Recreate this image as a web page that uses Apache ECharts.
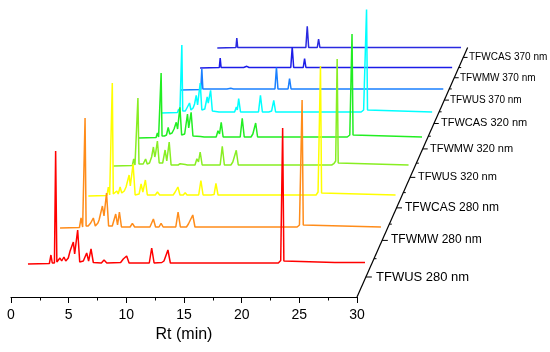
<!DOCTYPE html>
<html><head><meta charset="utf-8">
<script src="https://cdn.jsdelivr.net/npm/echarts@6/dist/echarts.min.js"></script>
<style>html,body{margin:0;padding:0;background:#fff}#c{width:550px;height:352px}</style>
</head><body><div id="c"></div><script>
// ---- data (retention time in min, intensity in arbitrary units) ----
const traceNames = ['TFWUS 280 nm','TFWMW 280 nm','TFWCAS 280 nm','TFWUS 320 nm','TFWMW 320 nm','TFWCAS 320 nm','TFWUS 370 nm','TFWMW 370 nm','TFWCAS 370 nm'];
const rtTicks = [0,5,10,15,20,25,30];

const tfwus280 = [[1.5,0],[3.28,0.5],[3.41,9],[3.52,1],[3.7,1],[3.8,113],[3.9,2],[4.0,3],[4.16,6],[4.3,3],[4.49,7],[4.64,3],[4.85,6],[5.0,13],[5.27,22],[5.38,10],[5.45,12],[5.63,34],[5.8,2],[6.1,3],[6.38,11],[6.54,3],[6.74,15],[6.93,1.5],[7.6,1],[7.82,4],[8.05,1],[9.2,1.5],[9.42,5],[9.55,3],[9.7,8],[9.9,1],[11.58,1],[11.78,16],[11.98,1],[12.62,1.5],[12.8,3],[12.95,1.5],[13.13,14],[13.33,1],[22.3,1],[22.5,3.5],[22.6,5],[22.66,136],[22.76,3],[22.9,1],[27,1.5],[29.5,1.5]];
const tfwmw280 = [[1.55,0],[3.24,0.5],[3.38,10],[3.52,1],[3.64,1],[3.73,110],[3.82,2],[4.0,2],[4.22,5],[4.32,3],[4.45,10],[4.62,2],[4.85,5],[4.95,8],[5.24,22],[5.38,12],[5.42,13],[5.6,35],[5.78,2],[6.1,2],[6.4,14],[6.56,3],[6.72,16],[6.9,1],[7.65,1],[7.85,4.7],[8.05,1],[9.38,1],[9.55,3],[9.68,9],[9.87,1],[10.17,1],[10.35,4.7],[10.53,1],[11.63,1],[11.83,16],[12.03,1],[12.56,1],[12.73,4],[12.9,2],[13.11,13],[13.3,1],[22.2,1],[22.4,3],[22.55,4],[22.63,128],[22.73,3],[22.88,1],[29.5,1]];
const tfwcas280 = [[1.58,0],[3.27,0.5],[3.4,9],[3.52,1],[3.67,1],[3.76,113],[3.85,2],[4.0,2],[4.17,5],[4.3,2],[4.47,9],[4.62,3],[4.85,5],[5.01,9],[5.29,21],[5.4,10],[5.45,11],[5.65,32],[5.84,1],[6.2,2],[6.38,12],[6.54,4],[6.77,16],[6.95,1],[7.67,1],[7.87,4],[8.07,1],[9.3,1],[9.48,4],[9.58,2],[9.73,9],[9.92,1],[10.22,1],[10.39,3.3],[10.56,1],[11.62,1],[11.82,15.5],[12.02,1],[12.75,1],[12.92,2.3],[13.02,1.5],[13.19,12.5],[13.38,1],[22.3,1],[22.48,4],[22.6,5],[22.7,130],[22.8,3],[22.93,1],[29.53,1]];
const tfwus320 = [[1.47,0],[3.27,0.5],[3.4,7],[3.52,1],[3.7,1],[3.8,68],[3.9,2],[4.1,2],[4.3,2],[4.53,7],[4.68,2],[4.9,3],[5.1,9],[5.27,19],[5.4,9],[5.47,12],[5.65,25],[5.82,3],[6.15,3],[6.38,16],[6.54,5],[6.77,24],[6.95,1],[7.62,1],[7.81,2.3],[7.98,1],[8.3,1.5],[8.5,1],[9.22,1],[9.4,7.3],[9.55,4],[9.71,14],[9.9,1],[11.61,1],[11.81,19.7],[12.01,1],[12.63,1],[12.81,4],[12.95,2],[13.14,15.7],[13.33,1],[22.2,1],[22.4,2.3],[22.58,5],[22.72,107],[22.82,3],[22.97,1],[29.5,1]];
const tfwmw320 = [[1.5,0],[3.27,0.5],[3.4,5],[3.52,1],[3.68,1],[3.77,65],[3.86,2],[4.1,2],[4.3,3],[4.47,10.7],[4.62,4],[4.85,5],[5.05,9],[5.27,15.7],[5.4,9],[5.45,10],[5.63,30.7],[5.8,3],[6.1,4],[6.38,24],[6.5,10],[6.55,12],[6.74,25.7],[6.92,2],[7.67,1.5],[7.85,3],[8.03,1],[9.22,1],[9.4,7.3],[9.55,4],[9.72,15.7],[9.91,1],[11.6,1],[11.8,19.7],[12.0,1],[12.67,1],[12.85,4],[12.97,2],[13.13,15],[13.32,1],[22.2,1],[22.45,3],[22.58,5],[22.67,104],[22.77,3],[22.92,1],[29.6,1]];
const tfwcas320 = [[1.6,0],[3.29,0.5],[3.42,4],[3.54,1],[3.65,1],[3.74,68],[3.83,2],[4.1,2],[4.3,3],[4.53,10],[4.68,3],[4.9,5],[5.05,9],[5.22,17.7],[5.36,8],[5.43,9],[5.63,30],[5.8,3],[6.1,4],[6.35,16],[6.46,10],[6.51,12],[6.7,22.7],[6.88,2],[7.57,1],[7.75,2],[7.93,1],[9.17,1],[9.35,6],[9.45,3],[9.59,14.3],[9.78,1],[11.63,1],[11.83,17.7],[12.03,1],[12.69,1],[12.86,2.7],[12.98,2],[13.2,12.7],[13.39,1],[22.2,1],[22.45,3],[22.62,4],[22.75,103.5],[22.85,3],[23.0,1],[29.5,1]];
const tfwus370 = [[1.55,0],[3.7,0.5],[3.81,21],[3.92,1],[6.5,1],[6.9,1.7],[7.2,1],[11.62,1],[11.78,22.5],[11.94,1],[13.02,1],[13.18,11.5],[13.34,1],[29.6,1]];
const tfwmw370 = [[1.57,0],[3.7,0.5],[3.8,10],[3.9,0.5],[6.4,0.5],[6.75,1.7],[7.0,0.5],[11.62,0.5],[11.78,21],[11.94,0.5],[13.0,0.5],[13.15,9.3],[13.3,0.5],[29.5,0.5]];
const tfwcas370 = [[1.54,0],[3.68,0.5],[3.78,10],[3.88,0.5],[6.4,0.5],[6.6,1.7],[6.9,0.5],[11.7,0.5],[11.86,21.7],[12.02,0.5],[13.01,0.5],[13.16,9],[13.31,0.5],[29.5,0.5]];
const traces = [tfwus280,tfwmw280,tfwcas280,tfwus320,tfwmw320,tfwcas320,tfwus370,tfwmw370,tfwcas370];

// ---- style / layout ----
const W = 550, H = 352;
const FONT = 'Liberation Sans, Arial, sans-serif';
const lineColors = ['#ff0000','#ff8c1a','#ffff00','#88ee22','#22ee22','#00ffff','#1a80ff','#1c1ce8','#2a2ae0'];
const baseY = [264,228,196,166,138,113,90,68,48];
const axisLeft = 11, axisRight = 357, axisY = 297;
function frame(i){ const d = baseY[0]-baseY[i]; return {x0: 9.9 + 0.898*d, x30: 371 + 0.437*d}; }

const grids = [{left: axisLeft, right: W-axisRight, bottom: H-axisY, height: 40}];
const xAxes = [{
  gridIndex: 0, type: 'value', min: rtTicks[0], max: rtTicks[rtTicks.length-1], interval: rtTicks[1]-rtTicks[0],
  name: 'Rt (min)', nameLocation: 'middle', nameGap: 30,
  nameTextStyle: {fontSize: 16, color: '#000', fontFamily: FONT},
  axisLine: {show: true, onZero: false, lineStyle: {color: '#000', width: 1.2}},
  axisTick: {show: true, inside: false, length: 6, lineStyle: {color: '#000', width: 1}},
  minorTick: {show: true, splitNumber: 2, length: 3.5, lineStyle: {color: '#000', width: 1}},
  axisLabel: {fontSize: 14, color: '#000', margin: 11, fontFamily: FONT},
  splitLine: {show: false}
}];
const yAxes = [{gridIndex: 0, type: 'value', min: 0, max: 1, show: false}];
const series = [];
for (let i = 0; i < traces.length; i++) {
  const f = frame(i);
  // 1 intensity unit = 1 px for every trace: grid spans from canvas top to the trace baseline
  grids.push({left: f.x0, right: W - f.x30, top: 0, bottom: H - baseY[i]});
  xAxes.push({gridIndex: i+1, type: 'value', min: 0, max: 30, show: false});
  yAxes.push({gridIndex: i+1, type: 'value', min: 0, max: baseY[i], show: false});
}
for (let i = traces.length-1; i >= 0; i--) {
  series.push({
    name: traceNames[i], type: 'line', xAxisIndex: i+1, yAxisIndex: i+1, data: traces[i],
    showSymbol: false, symbol: 'none', clip: false, silent: true,
    lineStyle: {color: lineColors[i], width: 1.5}
  });
}

const chart = echarts.init(document.getElementById('c'), null, {renderer: 'canvas'});
chart.setOption({animation: false, backgroundColor: '#fff', grid: grids, xAxis: xAxes, yAxis: yAxes, series: series});

// ---- oblique (depth) axis with trace labels ----
const pB = chart.convertToPixel({gridIndex: 0}, [30, 0]);
const last = traces.length-1;
const pL = chart.convertToPixel({gridIndex: last+1}, [30, 0]);
const k = ((pL[0]+2) - pB[0]) / (pB[1] - pL[1]);
const axX = y => pB[0] + (pB[1]-y)*k;
const g = [];
const labY = [];
for (let i = 0; i < traces.length; i++) {
  const a = chart.convertToPixel({gridIndex: i+1}, [0, 0]);
  const b = chart.convertToPixel({gridIndex: i+1}, [30, 0]);
  const s = (b[0]-a[0])/30;
  const y = b[1] + 1.08*s;
  labY.push(y);
  const x = axX(y);
  const fs = Math.max(10, Math.round(13 - (12.04 - s)));
  g.push({type: 'line', shape: {x1: x, y1: y, x2: x + 0.5*s, y2: y}, style: {stroke: '#000', lineWidth: 1}});
  g.push({type: 'text', x: Math.round(x + 1.4*s - 6.9), y: Math.round(y), style: {text: traceNames[i], fontSize: fs, fontFamily: FONT, fill: '#000', verticalAlign: 'middle', align: 'left'}});
  if (i > 0) {
    const ym = (labY[i-1] + y)/2, xm = axX(ym);
    g.push({type: 'line', shape: {x1: xm, y1: ym, x2: xm + 2.5, y2: ym}, style: {stroke: '#000', lineWidth: 1}});
  }
}
const topY = labY[last] - 10;
g.push({type: 'line', shape: {x1: pB[0], y1: pB[1], x2: axX(topY), y2: topY}, style: {stroke: '#000', lineWidth: 1.2}});
chart.setOption({graphic: g});
</script></body></html>
